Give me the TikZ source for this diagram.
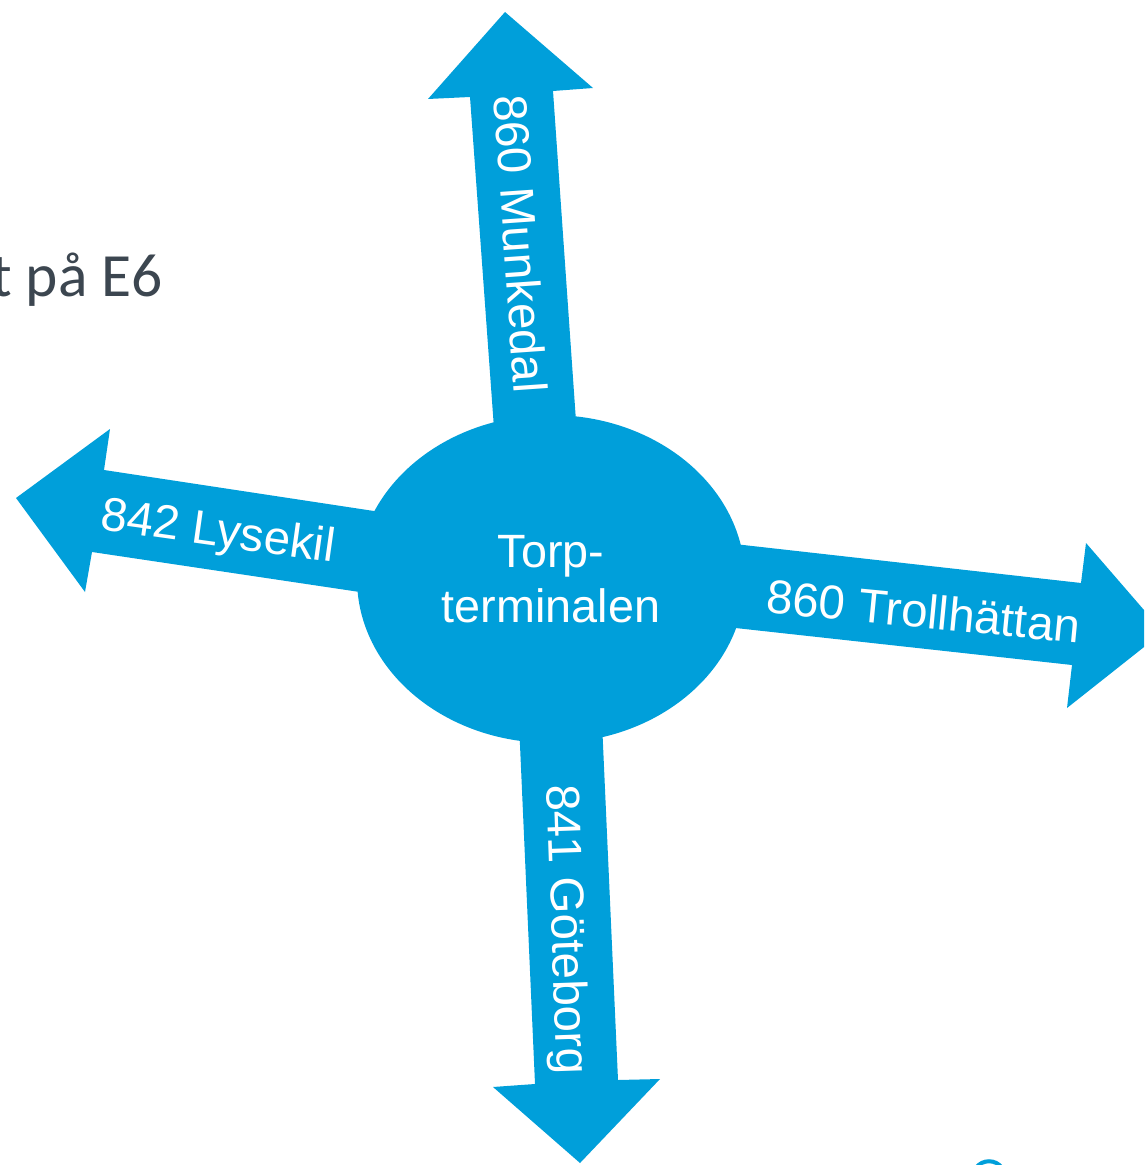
\documentclass[tikz,border=0pt]{standalone}
\usepackage{fontspec}
\setmainfont{Liberation Sans}
\newfontfamily\calfont{Carlito}
\usetikzlibrary{shapes.geometric}
\definecolor{routeblue}{HTML}{009FDA}
\definecolor{slidegrey}{HTML}{3C4650}

\begin{document}
\begin{tikzpicture}[x=0.02cm, y=-0.02cm,
  route/.style={fill=routeblue, draw=none},
  routelabel/.style={anchor=base, text=white, inner sep=0pt, font=\fontsize{27}{32}\selectfont}]

\useasboundingbox (0,0) rectangle (1144,1165);
\clip (0,0) rectangle (1144,1165);

% the arrow to the north
\coordinate (n1) at (496,456);
\coordinate (n2) at (470,97);
\coordinate (n3) at (428,99);
\coordinate (n4) at (505,12);
\coordinate (n5) at (593,88);
\coordinate (n6) at (553,91);
\coordinate (n7) at (578,450);
\fill[route] (n1) -- (n2) -- (n3) -- (n4) -- (n5) -- (n6) -- (n7) -- cycle;

% the arrow to the south
\coordinate (s1) at (518,700);
\coordinate (s2) at (535,1084);
\coordinate (s3) at (493,1087);
\coordinate (s4) at (580,1163);
\coordinate (s5) at (660,1079);
\coordinate (s6) at (618,1080);
\coordinate (s7) at (601,700);
\fill[route] (s1) -- (s2) -- (s3) -- (s4) -- (s5) -- (s6) -- (s7) -- cycle;

% the arrow to the west
\coordinate (w1) at (420,518);
\coordinate (w2) at (104,470);
\coordinate (w3) at (110,429);
\coordinate (w4) at (16,498);
\coordinate (w5) at (85,592);
\coordinate (w6) at (92,552);
\coordinate (w7) at (420,601);
\fill[route] (w1) -- (w2) -- (w3) -- (w4) -- (w5) -- (w6) -- (w7) -- cycle;

% the arrow to the east
\coordinate (e1) at (690,539);
\coordinate (e2) at (1081,583);
\coordinate (e3) at (1086,543);
\coordinate (e4) at (1163,632);
\coordinate (e5) at (1067,708);
\coordinate (e6) at (1072,665);
\coordinate (e7) at (690,623);
\fill[route] (e1) -- (e2) -- (e3) -- (e4) -- (e5) -- (e6) -- (e7) -- cycle;

% the terminal in the middle
\node[ellipse, route, minimum width=7.76cm, minimum height=6.56cm, inner sep=0pt,
  text=white, align=center, font=\fontsize{26.6}{31}\selectfont] (term) at (551,579) {Torp-\\terminalen};

% labels on the arrows
\node[routelabel, rotate=-86] (munk) at (504,245) {860 Munkedal};
\node[routelabel, rotate=-8] (lyse) at (216,546) {842 Lysekil};
\node[routelabel, rotate=-5.5] (troll) at (922,628) {860 Trollhättan};
\node[routelabel, rotate=-88] (gbg) at (552,930) {841 Göteborg};

% text left over from the slide
\node[anchor=base east, text=slidegrey, inner sep=0pt, font=\calfont\fontsize{35}{42}\selectfont] (road) at (163,297) {t på E6};

% bit of a logo at the bottom edge
\draw[routeblue, line width=2.3pt] (976,1168) .. controls (982,1159) and (996,1159) .. (1002,1168);

\end{tikzpicture}
\end{document}
